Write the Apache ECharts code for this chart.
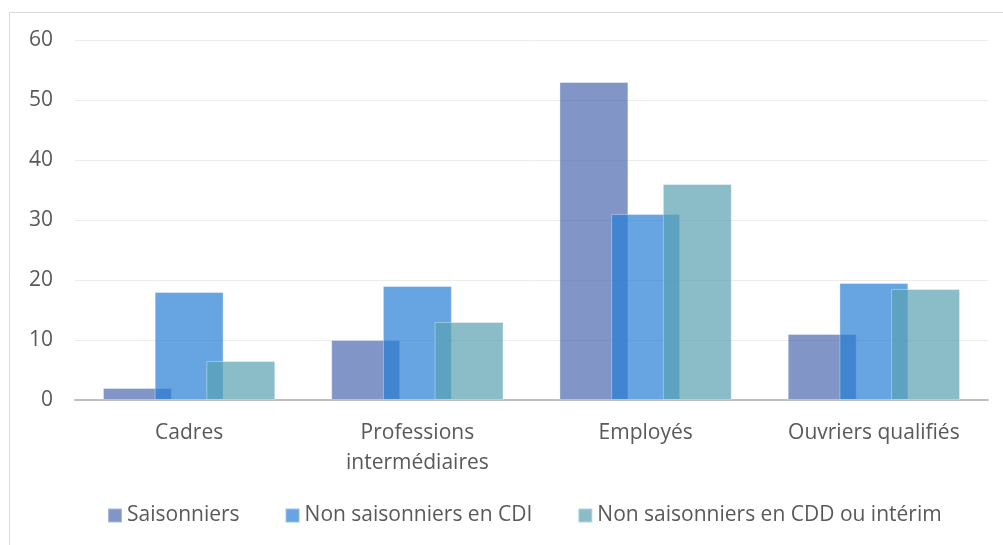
<!DOCTYPE html>
<html>
<head>
<meta charset="utf-8">
<script src="https://cdn.jsdelivr.net/npm/echarts@6/dist/echarts.min.js"></script>
<style>
  html, body { margin: 0; padding: 0; background: #fff; }
  #chart { width: 1003px; height: 545px; }
</style>
</head>
<body>
<div id="chart"></div>
<script>
// Categories and series values
const categories = ['Cadres', 'Professions\nintermédiaires', 'Employés', 'Ouvriers qualifiés'];
const saisonniers = [2, 10, 53, 11];
const nonSaisCDI = [18, 19, 31, 19.5];
const nonSaisCDD = [6.5, 13, 36, 18.5];
const seriesNames = ['Saisonniers', 'Non saisonniers en CDI', 'Non saisonniers en CDD ou intérim'];
const yTicks = { min: 0, max: 60, interval: 10 };

const FONT = '"Open Sans", "Noto Sans", sans-serif';
const colors = ['rgba(76,105,174,0.7)', 'rgba(39,125,214,0.7)', 'rgba(88,161,176,0.7)'];

const chart = echarts.init(document.getElementById('chart'), null, { renderer: 'canvas' });

function barSeries(name, data, color) {
  return {
    name: name,
    type: 'bar',
    data: data,
    barWidth: '30.2%',
    barGap: '-25%',
    itemStyle: { color: color, borderColor: 'rgba(255,255,255,0.35)', borderWidth: 1 },
    emphasis: { disabled: true }
  };
}

chart.setOption({
  animation: false,
  color: colors,
  textStyle: { fontFamily: FONT },
  graphic: [{
    type: 'rect',
    shape: { x: 9.5, y: 12.5, width: 1010, height: 560 },
    style: { fill: 'none', stroke: '#d9d9d9', lineWidth: 1 },
    silent: true
  }],
  grid: { left: 75, right: 15, top: 40, bottom: 145, containLabel: false },
  legend: {
    top: 505,
    left: 107,
    padding: 0,
    itemWidth: 14,
    itemHeight: 14,
    itemGap: 45,
    icon: 'rect',
    textStyle: { fontFamily: FONT, fontSize: 21, color: '#595959' },
    data: seriesNames
  },
  xAxis: {
    type: 'category',
    data: categories,
    axisLine: { lineStyle: { color: '#bfbfbf', width: 2 } },
    axisTick: { show: false },
    axisLabel: {
      interval: 0,
      margin: 18,
      fontFamily: FONT,
      fontSize: 21,
      lineHeight: 30,
      color: '#595959'
    }
  },
  yAxis: {
    type: 'value',
    min: yTicks.min,
    max: yTicks.max,
    interval: yTicks.interval,
    axisLine: { show: false },
    axisTick: { show: false },
    splitLine: { lineStyle: { color: '#ececec', width: 1 } },
    axisLabel: { margin: 22, fontFamily: FONT, fontSize: 21, color: '#595959' }
  },
  series: [
    barSeries(seriesNames[0], saisonniers, colors[0]),
    barSeries(seriesNames[1], nonSaisCDI, colors[1]),
    barSeries(seriesNames[2], nonSaisCDD, colors[2])
  ]
});
</script>
</body>
</html>
